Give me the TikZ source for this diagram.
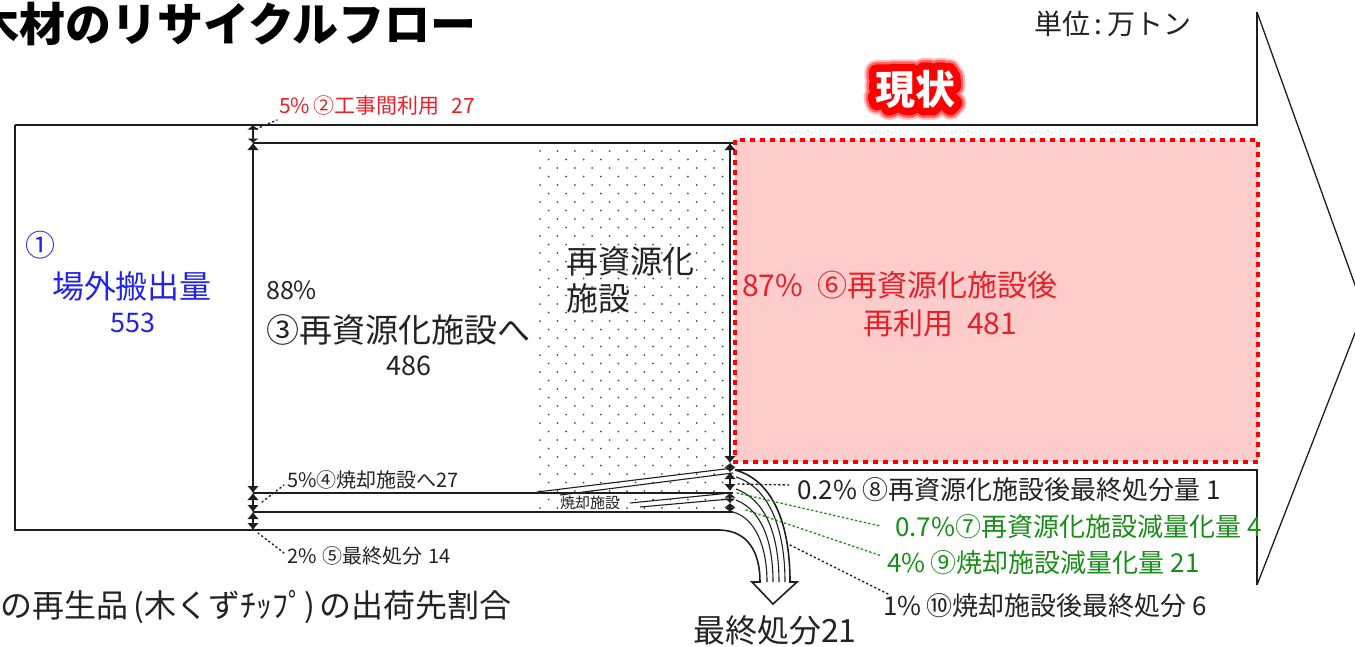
\documentclass[tikz,border=0pt]{standalone}
\usepackage{fontspec}
\setmainfont{Noto Sans CJK JP}
\usetikzlibrary{arrows.meta}
\definecolor{tred}{RGB}{232,32,40}
\definecolor{tblue}{RGB}{35,35,230}
\definecolor{tgreen}{RGB}{25,140,25}
\definecolor{tk}{RGB}{35,35,35}
\definecolor{lk}{RGB}{30,30,30}
\definecolor{pk}{RGB}{255,204,204}
\definecolor{rdash}{RGB}{255,0,0}
\newcommand{\fsz}[1]{\fontsize{#1}{#1}\selectfont}
\newcommand{\strokedtext}[2]{\special{pdf:literal direct 1 j #1 w 2 Tr}#2\special{pdf:literal direct 0 Tr 1 w}}
\newcommand{\glowtext}[1]{%
  \rlap{\textcolor{rdash!25}{\strokedtext{24}{#1}}}%
  \rlap{\textcolor{rdash!60}{\strokedtext{20}{#1}}}%
  \rlap{\textcolor{rdash}{\strokedtext{15}{#1}}}%
  \textcolor{white}{#1}}
\begin{document}
\begin{tikzpicture}[x=1pt,y=-1pt,
  ln/.style={line width=1.6pt, draw=lk},
  tl/.style={line width=1.1pt, draw=lk},
  dar/.style={line width=1.2pt, draw=lk, {Latex[width=12pt,length=7pt]}-{Latex[width=12pt,length=7pt]}},
  sar/.style={line width=1.2pt, draw=lk, {Latex[width=12pt,length=4.5pt]}-{Latex[width=12pt,length=4.5pt]}},
  lead/.style={line width=1.4pt, dash pattern=on 1.5pt off 3pt, line cap=round},
  lbl/.style={inner sep=0pt, text=tk},
]
\useasboundingbox (0,0) rectangle (1355,646);

% dotted recycling facility area
\begin{scope}
\clip (538,144) rectangle (727,512);
\foreach \k in {0,...,42}{\foreach \j in {0,...,11}{
  \fill[black!70] ({540+17.4*\j+8.7*mod(\k,2)},{151+8.5*\k}) circle[radius=1pt];}}
\end{scope}

% pink result box
\fill[pk] (735,140) rectangle (1258,462);

% big outline arrow
\draw[ln] (15,125) -- (1257,125) -- (1257,12);
\draw[line width=1.3pt, draw=lk] (1257,12) -- (1364,310) -- (1257,585);
\draw[ln] (1257,585) -- (1257,470) -- (735,470);
\draw[ln] (15,125) -- (15,530) -- (720,530)
   .. controls (748,531) and (760,552) .. (760,582) -- (752,582) -- (773,604) -- (797,582) -- (790,582)
   .. controls (790,522) and (772,480) .. (735,470);

% band lines
\draw[ln] (253,143) -- (735,143);
\draw[ln] (253,493) -- (733,493);
\draw[ln] (253,512) -- (733,512);

% converging lines from incineration
\draw[tl] (537,492) -- (733,468);
\draw[tl] (560,495) -- (733,473);
\draw[tl] (630,503) -- (730,493);
\draw[tl] (640,507) -- (730,499);

% flows curving into final disposal arrow
\draw[tl] (736,477) .. controls (770,488) and (785,530) .. (785,582);
\draw[tl] (736,489) .. controls (766,500) and (779,535) .. (779,582);
\draw[tl] (736,500) .. controls (761,510) and (773,540) .. (773,582);
\draw[tl] (733,512) .. controls (755,518) and (767,546) .. (767,582);

% stacked double arrows (left)
\draw[sar] (253,125) -- (253,143);
\draw[dar] (253,143) -- (253,493);
\draw[dar] (253,493) -- (253,512);
\draw[dar] (253,512) -- (253,530);
% stacked double arrows (right)
\draw[dar] (730,143) -- (730,463);
\draw[sar] (730,463) -- (730,472);
\draw[dar] (730,472) -- (730,491);
\draw[sar] (730,493) -- (730,503);
\draw[sar] (730,503) -- (730,512);

% red dotted frame
\draw[rdash, line width=4.5pt, dash pattern=on 5pt off 5pt] (735,140) rectangle (1258,462);

% title and unit
\node[lbl, anchor=west, font=\fsz{46}\bfseries, text=black] (title) at (-27,24) {木材のリサイクルフロー};
\node[lbl, anchor=west, font=\fsz{28}] (unit) at (1034,24) {単位\,:\,万トン};

% 現状 with red glow
\node[lbl, font=\fsz{40}\bfseries] (now) at (915,89) {\glowtext{現状}};

% labels
\node[lbl, anchor=west, font=\fsz{21}, text=tred] (l2) at (279,106) {5\%\,②工事間利用\hspace{12pt}27};
\node[lbl, font=\fsz{30}, text=tblue] (l1a) at (40,245) {①};
\node[lbl, font=\fsz{32}, text=tblue] (l1b) at (132,286) {場外搬出量};
\node[lbl, font=\fsz{27}, text=tblue] (l1c) at (133,323) {553};
\node[lbl, anchor=west, font=\fsz{25}] (l3a) at (266,290) {88\%};
\node[lbl, anchor=west, font=\fsz{33}] (l3b) at (266,330) {③再資源化施設へ};
\node[lbl, font=\fsz{27}] (l3c) at (409,366) {486};
\node[lbl, anchor=west, align=left, font=\fontsize{32}{37}\selectfont] (fac) at (566,280) {再資源化\\施設};
\node[lbl, anchor=west, font=\fsz{30}, text=tred] (l6a) at (742,285) {87\%\hspace{14pt}⑥再資源化施設後};
\node[lbl, font=\fsz{30}, text=tred] (l6b) at (940,323) {再利用\hspace{14pt}481};
\node[lbl, anchor=west, font=\fsz{20}] (l4) at (287,480) {5\%④焼却施設へ27};
\node[lbl, anchor=west, font=\fsz{20}] (l5) at (287,556) {2\%\hspace{6pt}⑤最終処分\hspace{6pt}14};
\node[lbl, font=\fsz{15}] (inc) at (590,503) {焼却施設};
\node[lbl, anchor=west, font=\fsz{26}] (l8) at (797,490) {0.2\%\hspace{5pt}⑧再資源化施設後最終処分量\hspace{6pt}1};
\node[lbl, anchor=west, font=\fsz{26}, text=tgreen] (l7) at (895,527) {0.7\%⑦再資源化施設減量化量\hspace{6pt}4};
\node[lbl, anchor=west, font=\fsz{26}, text=tgreen] (l9) at (887,563) {4\%\hspace{5pt}⑨焼却施設減量化量\hspace{6pt}21};
\node[lbl, anchor=west, font=\fsz{26}] (l10) at (883,606) {1\%\hspace{5pt}⑩焼却施設後最終処分\hspace{6pt}6};
\node[lbl, anchor=west, font=\fsz{32}] (fin) at (693,630) {最終処分21};
\node[lbl, anchor=west, font=\fsz{32}] (ship) at (0,607) {の再生品\hspace{5pt}(木くずﾁｯﾌﾟ)\hspace{5pt}の出荷先割合};

% leaders
\coordinate (p2) at (256,129); \coordinate (q2) at (277,120);
\draw[lead, draw=lk] (p2) -- (q2);
\coordinate (p4) at (262,502); \coordinate (q4) at (284,485);
\draw[lead, draw=lk] (p4) -- (q4);
\coordinate (p5) at (258,533); \coordinate (q5) at (284,553);
\draw[lead, draw=lk] (p5) -- (q5);
\coordinate (p8) at (738,484); \coordinate (q8) at (790,485);
\draw[lead, draw=lk] (p8) -- (q8);
\coordinate (p7) at (737,493); \coordinate (q7) at (880,526);
\draw[lead, draw=tgreen] (p7) -- (q7);
\coordinate (p9) at (746,510); \coordinate (q9) at (882,556);
\draw[lead, draw=tgreen] (p9) -- (q9);
\coordinate (p10) at (790,545); \coordinate (q10) at (888,594);
\draw[lead, draw=lk] (p10) -- (q10);
\end{tikzpicture}
\end{document}
